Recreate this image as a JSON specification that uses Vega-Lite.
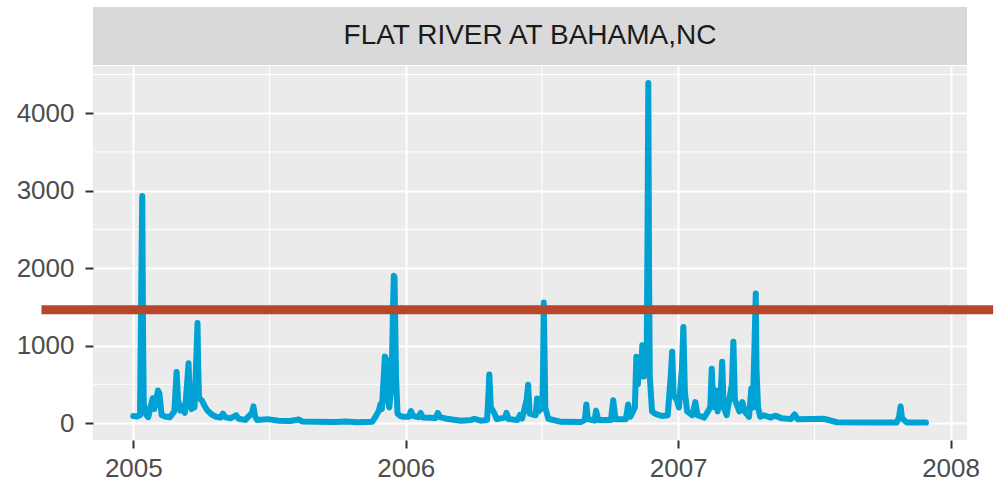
{
  "$schema": "https://vega.github.io/schema/vega-lite/v6.json",
  "width": 874,
  "height": 374,
  "autosize": {"type": "none"},
  "padding": {"left": 93, "top": 66, "right": 27, "bottom": 42},
  "background": "#FFFFFF",
  "config": {
    "view": {"fill": "#EBEBEB", "stroke": null},
    "font": "Liberation Sans",
    "axis": {
      "domain": false,
      "grid": true,
      "gridColor": "#FFFFFF",
      "gridWidth": 2,
      "tickColor": "#333333",
      "tickWidth": 2,
      "tickSize": 8,
      "labelFont": "Liberation Sans",
      "labelFontSize": 26,
      "labelColor": "#4D4D4D",
      "labelFlush": false,
      "labelOverlap": false
    },
    "axisX": {"labelPadding": 7},
    "axisY": {"labelPadding": 11}
  },
  "datasets": {
    "minor_y": [{"flow": 500}, {"flow": 1500}, {"flow": 2500}, {"flow": 3500}, {"flow": 4500}],
    "minor_x": [{"date": "2005-07-02T12:00:00Z"}, {"date": "2006-07-02T12:00:00Z"}, {"date": "2007-07-02T12:00:00Z"}],
    "threshold": [{"flow": 1463}],
    "station": [{"station": "FLAT RIVER AT BAHAMA,NC"}],
    "flow": [
      {"date": "2005-01-01", "flow": 90},
      {"date": "2005-01-06", "flow": 85},
      {"date": "2005-01-10", "flow": 100},
      {"date": "2005-01-12", "flow": 2100},
      {"date": "2005-01-13", "flow": 2930},
      {"date": "2005-01-14", "flow": 1200},
      {"date": "2005-01-15", "flow": 250},
      {"date": "2005-01-18", "flow": 110},
      {"date": "2005-01-21", "flow": 75},
      {"date": "2005-01-27", "flow": 320},
      {"date": "2005-01-29", "flow": 180},
      {"date": "2005-02-03", "flow": 420},
      {"date": "2005-02-05", "flow": 380},
      {"date": "2005-02-08", "flow": 100},
      {"date": "2005-02-14", "flow": 80},
      {"date": "2005-02-19", "flow": 75},
      {"date": "2005-02-25", "flow": 150},
      {"date": "2005-02-28", "flow": 660},
      {"date": "2005-03-02", "flow": 300},
      {"date": "2005-03-05", "flow": 160},
      {"date": "2005-03-09", "flow": 220},
      {"date": "2005-03-11", "flow": 130},
      {"date": "2005-03-14", "flow": 500},
      {"date": "2005-03-16", "flow": 770},
      {"date": "2005-03-18", "flow": 230},
      {"date": "2005-03-20", "flow": 180},
      {"date": "2005-03-22", "flow": 350},
      {"date": "2005-03-24", "flow": 200},
      {"date": "2005-03-27", "flow": 1000},
      {"date": "2005-03-28", "flow": 1290},
      {"date": "2005-03-29", "flow": 700},
      {"date": "2005-03-30", "flow": 320},
      {"date": "2005-04-03", "flow": 290},
      {"date": "2005-04-06", "flow": 230},
      {"date": "2005-04-10", "flow": 165},
      {"date": "2005-04-16", "flow": 110},
      {"date": "2005-04-22", "flow": 80},
      {"date": "2005-04-28", "flow": 70},
      {"date": "2005-05-01", "flow": 120},
      {"date": "2005-05-04", "flow": 75},
      {"date": "2005-05-11", "flow": 60},
      {"date": "2005-05-19", "flow": 100},
      {"date": "2005-05-22", "flow": 55},
      {"date": "2005-05-31", "flow": 40},
      {"date": "2005-06-09", "flow": 130},
      {"date": "2005-06-11", "flow": 215},
      {"date": "2005-06-13", "flow": 90},
      {"date": "2005-06-16", "flow": 40},
      {"date": "2005-06-30", "flow": 50},
      {"date": "2005-07-15", "flow": 30},
      {"date": "2005-07-30", "flow": 25},
      {"date": "2005-08-11", "flow": 45},
      {"date": "2005-08-15", "flow": 20},
      {"date": "2005-09-03", "flow": 15},
      {"date": "2005-09-28", "flow": 12},
      {"date": "2005-10-13", "flow": 20},
      {"date": "2005-10-28", "flow": 10},
      {"date": "2005-11-17", "flow": 15},
      {"date": "2005-11-22", "flow": 90},
      {"date": "2005-11-26", "flow": 160},
      {"date": "2005-11-28", "flow": 240},
      {"date": "2005-11-30", "flow": 180},
      {"date": "2005-12-02", "flow": 500},
      {"date": "2005-12-04", "flow": 860},
      {"date": "2005-12-06", "flow": 820},
      {"date": "2005-12-08", "flow": 300},
      {"date": "2005-12-10", "flow": 200},
      {"date": "2005-12-13", "flow": 500},
      {"date": "2005-12-15", "flow": 1500},
      {"date": "2005-12-16", "flow": 1900},
      {"date": "2005-12-17", "flow": 1880},
      {"date": "2005-12-19", "flow": 600},
      {"date": "2005-12-21", "flow": 120},
      {"date": "2005-12-25", "flow": 90},
      {"date": "2005-12-29", "flow": 80},
      {"date": "2006-01-05", "flow": 80},
      {"date": "2006-01-08", "flow": 155},
      {"date": "2006-01-11", "flow": 90},
      {"date": "2006-01-18", "flow": 75},
      {"date": "2006-01-21", "flow": 130},
      {"date": "2006-01-24", "flow": 70},
      {"date": "2006-02-10", "flow": 65},
      {"date": "2006-02-13", "flow": 130},
      {"date": "2006-02-16", "flow": 75},
      {"date": "2006-02-25", "flow": 55},
      {"date": "2006-03-16", "flow": 30},
      {"date": "2006-03-30", "flow": 40},
      {"date": "2006-04-03", "flow": 55},
      {"date": "2006-04-11", "flow": 30},
      {"date": "2006-04-20", "flow": 40},
      {"date": "2006-04-22", "flow": 400},
      {"date": "2006-04-23", "flow": 625},
      {"date": "2006-04-25", "flow": 200},
      {"date": "2006-04-29", "flow": 140},
      {"date": "2006-05-03", "flow": 50},
      {"date": "2006-05-14", "flow": 70},
      {"date": "2006-05-16", "flow": 130},
      {"date": "2006-05-19", "flow": 50},
      {"date": "2006-05-31", "flow": 40},
      {"date": "2006-06-03", "flow": 105},
      {"date": "2006-06-06", "flow": 60},
      {"date": "2006-06-12", "flow": 300},
      {"date": "2006-06-14", "flow": 495},
      {"date": "2006-06-16", "flow": 120},
      {"date": "2006-06-24", "flow": 100},
      {"date": "2006-06-26", "flow": 315},
      {"date": "2006-06-28", "flow": 150},
      {"date": "2006-07-03", "flow": 200},
      {"date": "2006-07-04", "flow": 700},
      {"date": "2006-07-05", "flow": 1557},
      {"date": "2006-07-06", "flow": 900},
      {"date": "2006-07-07", "flow": 200},
      {"date": "2006-07-11", "flow": 55},
      {"date": "2006-07-28", "flow": 15},
      {"date": "2006-08-24", "flow": 13},
      {"date": "2006-08-29", "flow": 40},
      {"date": "2006-08-31", "flow": 240},
      {"date": "2006-09-02", "flow": 50},
      {"date": "2006-09-11", "flow": 30},
      {"date": "2006-09-13", "flow": 160},
      {"date": "2006-09-16", "flow": 40},
      {"date": "2006-10-03", "flow": 40},
      {"date": "2006-10-06", "flow": 295},
      {"date": "2006-10-09", "flow": 50},
      {"date": "2006-10-23", "flow": 50},
      {"date": "2006-10-26", "flow": 240},
      {"date": "2006-10-29", "flow": 80},
      {"date": "2006-11-04", "flow": 200},
      {"date": "2006-11-06", "flow": 855},
      {"date": "2006-11-08", "flow": 500},
      {"date": "2006-11-10", "flow": 820},
      {"date": "2006-11-12", "flow": 600},
      {"date": "2006-11-14", "flow": 1005},
      {"date": "2006-11-16", "flow": 600},
      {"date": "2006-11-18", "flow": 950},
      {"date": "2006-11-20", "flow": 1000},
      {"date": "2006-11-21", "flow": 2500},
      {"date": "2006-11-22", "flow": 4390},
      {"date": "2006-11-23", "flow": 2000},
      {"date": "2006-11-24", "flow": 600},
      {"date": "2006-11-27", "flow": 150},
      {"date": "2006-12-01", "flow": 120},
      {"date": "2006-12-10", "flow": 90},
      {"date": "2006-12-18", "flow": 100},
      {"date": "2006-12-22", "flow": 600},
      {"date": "2006-12-24", "flow": 920},
      {"date": "2006-12-26", "flow": 350},
      {"date": "2006-12-30", "flow": 300},
      {"date": "2007-01-02", "flow": 200},
      {"date": "2007-01-06", "flow": 700},
      {"date": "2007-01-08", "flow": 1240},
      {"date": "2007-01-10", "flow": 400},
      {"date": "2007-01-13", "flow": 150},
      {"date": "2007-01-20", "flow": 100},
      {"date": "2007-01-24", "flow": 270},
      {"date": "2007-01-27", "flow": 100},
      {"date": "2007-02-05", "flow": 70},
      {"date": "2007-02-13", "flow": 200},
      {"date": "2007-02-15", "flow": 700},
      {"date": "2007-02-17", "flow": 250},
      {"date": "2007-02-19", "flow": 200},
      {"date": "2007-02-21", "flow": 420},
      {"date": "2007-02-23", "flow": 150},
      {"date": "2007-02-27", "flow": 400},
      {"date": "2007-03-01", "flow": 790},
      {"date": "2007-03-03", "flow": 200},
      {"date": "2007-03-07", "flow": 100},
      {"date": "2007-03-14", "flow": 500},
      {"date": "2007-03-16", "flow": 1050},
      {"date": "2007-03-18", "flow": 300},
      {"date": "2007-03-24", "flow": 150},
      {"date": "2007-03-28", "flow": 270},
      {"date": "2007-03-31", "flow": 150},
      {"date": "2007-04-06", "flow": 80},
      {"date": "2007-04-09", "flow": 445},
      {"date": "2007-04-11", "flow": 200},
      {"date": "2007-04-13", "flow": 900},
      {"date": "2007-04-15", "flow": 1673},
      {"date": "2007-04-16", "flow": 700},
      {"date": "2007-04-18", "flow": 200},
      {"date": "2007-04-21", "flow": 80},
      {"date": "2007-04-26", "flow": 100},
      {"date": "2007-05-05", "flow": 70},
      {"date": "2007-05-11", "flow": 95},
      {"date": "2007-05-20", "flow": 60},
      {"date": "2007-06-01", "flow": 50},
      {"date": "2007-06-06", "flow": 112},
      {"date": "2007-06-10", "flow": 50},
      {"date": "2007-07-15", "flow": 55},
      {"date": "2007-08-02", "flow": 10},
      {"date": "2007-09-15", "flow": 7},
      {"date": "2007-10-21", "flow": 7},
      {"date": "2007-10-24", "flow": 80},
      {"date": "2007-10-26", "flow": 215},
      {"date": "2007-10-28", "flow": 60},
      {"date": "2007-11-03", "flow": 8},
      {"date": "2007-11-29", "flow": 5}
    ]
  },
  "layer": [
    {
      "data": {"name": "minor_y"},
      "mark": {"type": "rule", "color": "#FFFFFF", "strokeWidth": 1},
      "encoding": {
        "y": {"field": "flow", "type": "quantitative", "title": null,
              "scale": {"domain": [-219.5, 4609.5], "nice": false, "zero": false}}
      }
    },
    {
      "data": {"name": "minor_x"},
      "mark": {"type": "rule", "color": "#FFFFFF", "strokeWidth": 1},
      "encoding": {
        "x": {"field": "date", "type": "temporal", "title": null,
              "scale": {"type": "utc", "domain": [{"year": 2004, "month": 11, "date": 8, "utc": true}, {"year": 2008, "month": 1, "date": 23, "utc": true}], "nice": false}}
      }
    },
    {
      "data": {"name": "flow"},
      "mark": {"type": "line", "color": "#00A1D3", "strokeWidth": 6, "strokeJoin": "round", "strokeCap": "round"},
      "encoding": {
        "x": {"field": "date", "type": "temporal", "title": null,
              "scale": {"type": "utc", "domain": [{"year": 2004, "month": 11, "date": 8, "utc": true}, {"year": 2008, "month": 1, "date": 23, "utc": true}], "nice": false},
              "axis": {"values": [{"year": 2005, "utc": true}, {"year": 2006, "utc": true}, {"year": 2007, "utc": true}, {"year": 2008, "utc": true}], "format": "%Y"}},
        "y": {"field": "flow", "type": "quantitative", "title": null,
              "scale": {"domain": [-219.5, 4609.5], "nice": false, "zero": false},
              "axis": {"values": [0, 1000, 2000, 3000, 4000], "format": "d"}}
      }
    },
    {
      "data": {"name": "threshold"},
      "mark": {"type": "rule", "color": "#B8462A", "strokeWidth": 9, "clip": false},
      "encoding": {
        "x": {"datum": {"year": 2004, "month": 8, "date": 31, "utc": true}, "type": "temporal", "title": null},
        "x2": {"datum": {"year": 2008, "month": 2, "date": 27, "utc": true}},
        "y": {"field": "flow", "type": "quantitative", "title": null}
      }
    },
    {
      "data": {"name": "station"},
      "mark": {"type": "rect", "fill": "#D9D9D9", "clip": false},
      "encoding": {
        "x": {"datum": {"year": 2004, "month": 11, "date": 8, "utc": true}, "type": "temporal", "title": null},
        "x2": {"datum": {"year": 2008, "month": 1, "date": 23, "utc": true}},
        "y": {"datum": 4622, "type": "quantitative", "title": null},
        "y2": {"datum": 5371}
      }
    },
    {
      "data": {"name": "station"},
      "mark": {"type": "text", "color": "#1A1A1A", "fontSize": 28, "font": "Liberation Sans", "baseline": "middle", "align": "center", "clip": false},
      "encoding": {
        "y": {"datum": 4997, "type": "quantitative", "title": null},
        "text": {"field": "station", "type": "nominal"}
      }
    }
  ]
}
